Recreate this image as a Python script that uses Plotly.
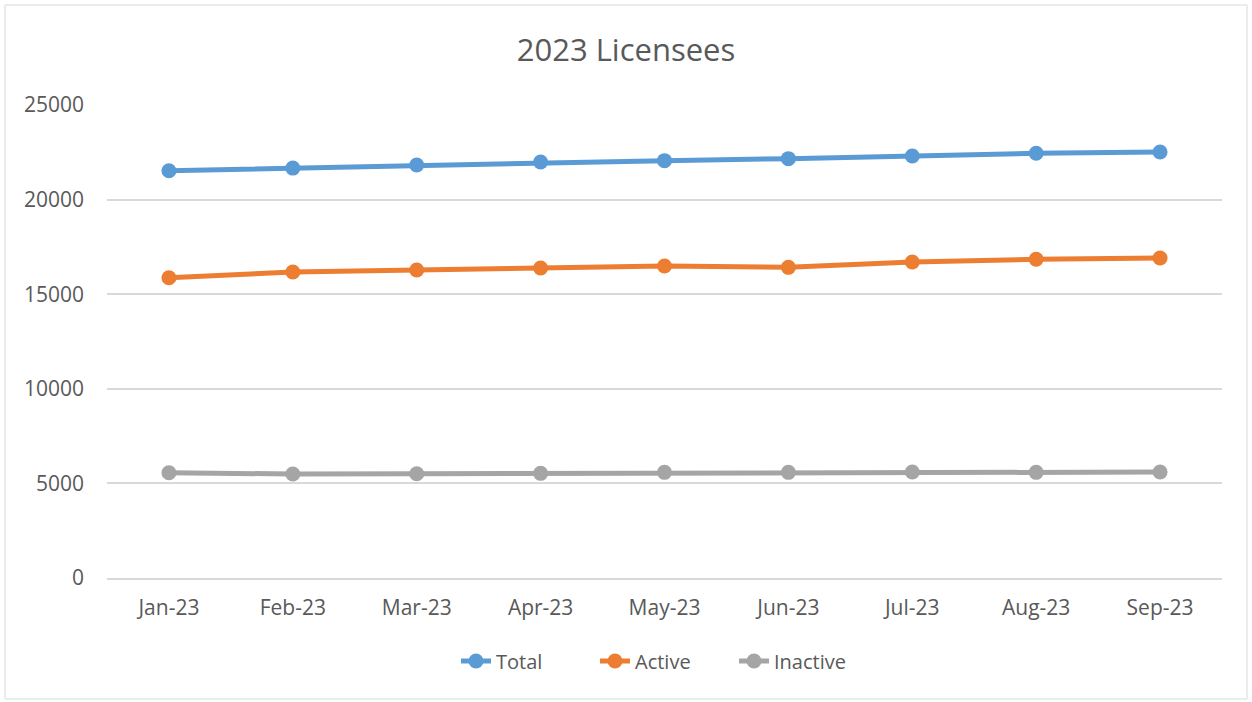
import plotly.graph_objects as go

months = ["Jan-23", "Feb-23", "Mar-23", "Apr-23", "May-23", "Jun-23", "Jul-23", "Aug-23", "Sep-23"]
total = [21527, 21665, 21825, 21985, 22059, 22165, 22305, 22447, 22516]
active = [15867, 16170, 16277, 16383, 16490, 16420, 16702, 16846, 16915]
inactive = [5564, 5495, 5510, 5530, 5585, 5585, 5600, 5585, 5600]

series = [("Total", total, "#5B9BD5"), ("Active", active, "#ED7D31"), ("Inactive", inactive, "#A5A5A5")]

fig = go.Figure()
for name, vals, col in series:
    fig.add_trace(go.Scatter(x=months, y=vals, name=name, mode="lines+markers",
                             line=dict(color=col, width=5),
                             marker=dict(color=col, size=15)))

W, H = 1252, 702
L, R, T, B = 107, 30, 105, 124
pw, ph = W - L - R, H - T - B

fig.update_layout(
    width=W, height=H,
    margin=dict(l=L, r=R, t=T, b=B),
    paper_bgcolor="white", plot_bgcolor="white",
    font=dict(family="Open Sans, Liberation Sans, sans-serif", color="#595959", size=21),
    title=dict(text="2023 Licensees", x=0.5, xanchor="center", y=(H - 50) / H, yanchor="middle",
               font=dict(size=31, color="#595959")),
    showlegend=True,
    legend=dict(orientation="h", x=0.5, xanchor="center", y=(H - B - 661) / ph, yanchor="middle",
                font=dict(size=20, color="#595959"), entrywidth=94, entrywidthmode="pixels"),
    xaxis=dict(showgrid=False, showline=True, linecolor="#d9d9d9", linewidth=1.5,
               ticks="", tickfont=dict(size=21), ticklabelstandoff=10,
               range=[-0.5, len(months) - 0.5]),
    yaxis=dict(range=[0, 25000], dtick=5000, showgrid=True, gridcolor="#d9d9d9", gridwidth=1.5,
               zeroline=False, showline=False, ticks="", tickformat="d",
               tickfont=dict(size=21), ticklabelstandoff=22),
)

fig.add_shape(type="rect", xref="paper", yref="paper",
              x0=(5 - L) / pw, x1=(1247 - L) / pw,
              y0=(H - B - 699) / ph, y1=(H - B - 5) / ph,
              line=dict(color="#d9d9d9", width=1), fillcolor="rgba(0,0,0,0)", layer="below")

fig.write_html("out.html", config={"displayModeBar": False},
               post_script="document.body.style.margin='0';document.body.style.overflow='hidden';")
